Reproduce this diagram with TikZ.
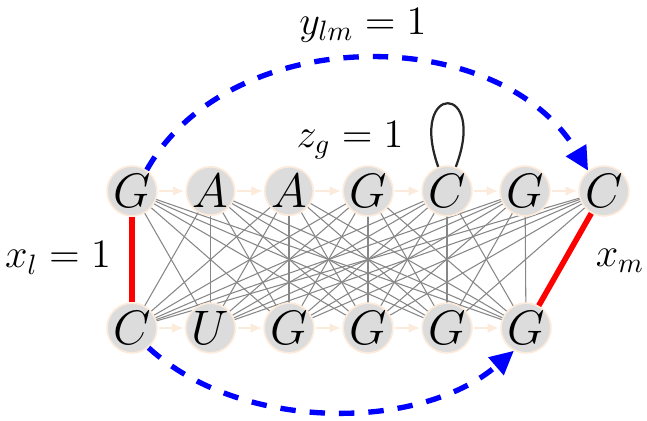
\documentclass[tikz,border=0pt]{standalone}
\usetikzlibrary{arrows.meta}
\definecolor{peach}{RGB}{252,234,218}
\definecolor{nodegray}{RGB}{220,220,220}
\definecolor{edgegray}{RGB}{135,135,135}
\tikzset{
  nt/.style={circle,fill=nodegray,draw=peach,line width=0.6pt,minimum size=15pt,inner sep=0pt,font=\fontsize{16}{18}\selectfont},
  seqarrow/.style={draw=peach,line width=0.6pt,-{Latex[length=4pt,width=3.5pt]},shorten >=0.5pt,shorten <=0.5pt},
  pairedge/.style={draw=edgegray,line width=0.38pt},
  redline/.style={draw=red,line width=2pt},
  bluearc/.style={draw=blue,line width=1.9pt,dash pattern=on 5.5pt off 5pt,-{Triangle[length=8.5pt,width=8pt]}},
  loopline/.style={draw=black!85,line width=0.8pt},
  lbl/.style={font=\fontsize{14}{16}\selectfont}
}
\begin{document}
\begin{tikzpicture}[x=0.357pt,y=-0.357pt]
\useasboundingbox (0,0) rectangle (647,420);
% node positions
\foreach \n/\x/\y in {t1/132/191,t2/210.5/191,t3/289/191,t4/368/191,t5/447/191,t6/525/191,t7/604/191,b1/132/328,b2/210.5/328,b3/289/328,b4/368/328,b5/447/328,b6/526/328}{
  \coordinate (\n) at (\x,\y);
}
% pair edges (complete bipartite, red pairs excluded)
\foreach \i in {1,...,7}{
  \foreach \j in {1,...,6}{
    \pgfmathtruncatemacro{\skipit}{(\i==1 && \j==1) || (\i==7 && \j==6) ? 1 : 0}
    \ifnum\skipit=0
      \draw[pairedge] (t\i) -- (b\j);
    \fi
  }
}
% nodes on top
\foreach \n/\x/\y/\l in {t1/132/191/G,t2/210.5/191/A,t3/289/191/A,t4/368/191/G,t5/447/191/C,t6/525/191/G,t7/604/191/C,b1/132/328/C,b2/210.5/328/U,b3/289/328/G,b4/368/328/G,b5/447/328/G,b6/526/328/G}{
  \node[nt] (\n) at (\x,\y) {$\l$};
}
% sequence arrows
\foreach \a/\b in {t1/t2,t2/t3,t3/t4,t4/t5,t5/t6,t6/t7,b1/b2,b2/b3,b3/b4,b4/b5,b5/b6}{
  \draw[seqarrow] (\a) -- (\b);
}
% red pairs
\draw[redline] (t1) -- (b1);
\draw[redline] (t7) -- (b6);
% blue arcs
\draw[bluearc] (t1.55) .. controls (230,22) and (500,22) .. (t7.128);
\draw[bluearc] (b1.-50) .. controls (240,432) and (420,432) .. (b6.-118);
% self loop
\draw[loopline] (t5.110) .. controls (408,82) and (488,82) .. (t5.70);
% labels
\node[lbl] (ylab) at (363,25) {$y_{lm}=1$};
\node[lbl] (zlab) at (350,140) {$z_g=1$};
\node[lbl] (xl) at (58,258) {$x_l=1$};
\node[lbl] (xm) at (620,261) {$x_m$};
\end{tikzpicture}
\end{document}
